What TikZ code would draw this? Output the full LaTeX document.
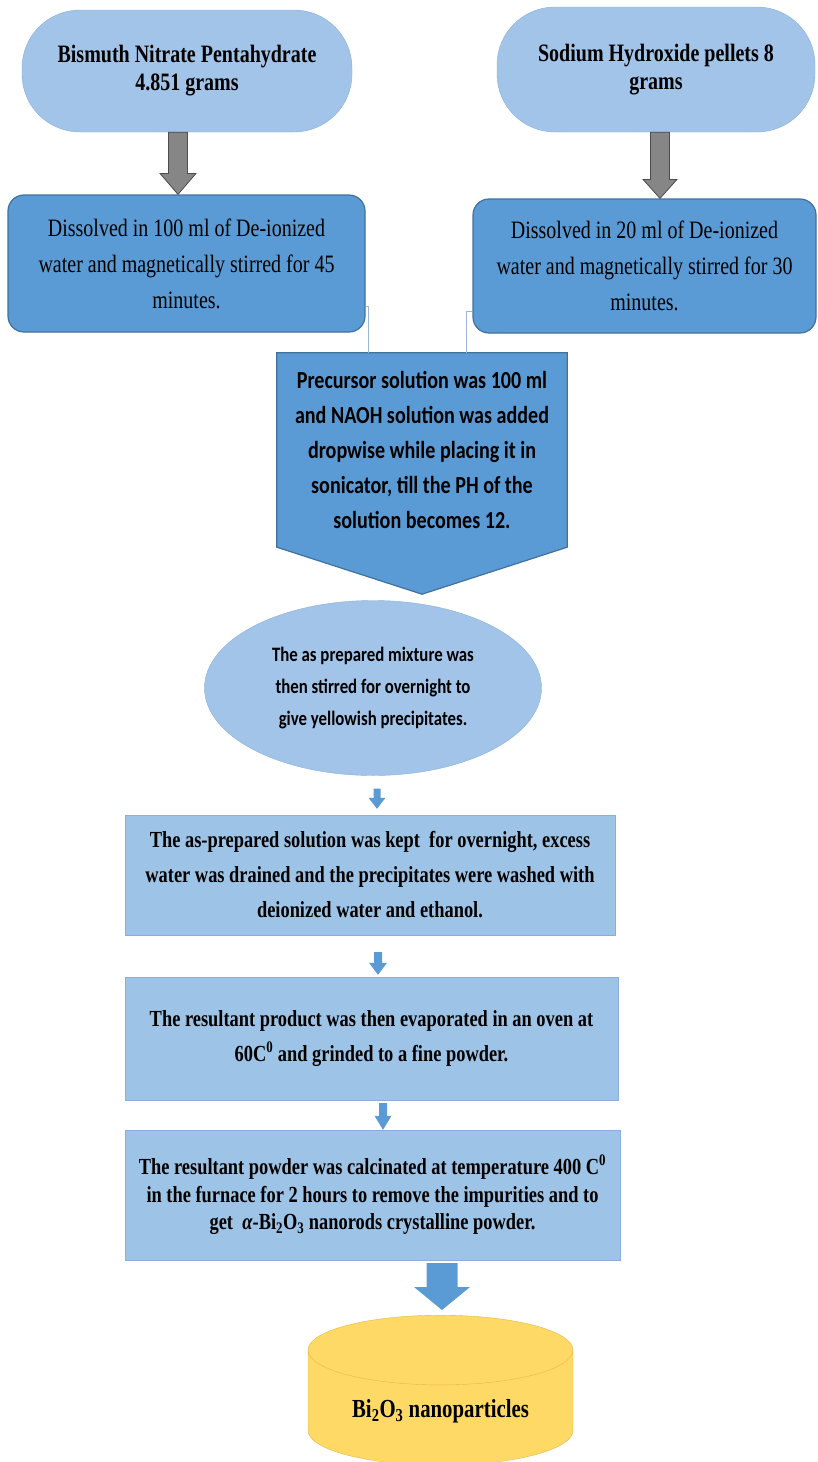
\documentclass[tikz,border=0pt]{standalone}
\usepackage{fontspec}
\setmainfont{Liberation Serif}[FakeStretch=0.8]
\newfontfamily\calibri{Carlito}[FakeStretch=0.82]
\usetikzlibrary{shapes.geometric,calc,backgrounds}
\definecolor{lightblue}{HTML}{A2C4E9}
\definecolor{midblue}{HTML}{5B9BD5}
\definecolor{darkblue}{HTML}{41719C}
\definecolor{edgeblue}{HTML}{8AAEDB}
\definecolor{rectblue}{HTML}{9DC3E6}
\definecolor{gold}{HTML}{FFD966}
\definecolor{goldedge}{HTML}{E2B94C}
\definecolor{linkgray}{HTML}{9DB5D6}
\newcommand{\blockarrow}[6][]{%
  \draw[#1] let \p1=(#2), \p2=(#3) in
    (\x1-#4,\y1) -- (\x1+#4,\y1) -- (\x1+#4,\y2+#6) -- (\x1+#5,\y2+#6)
    -- (\x1,\y2) -- (\x1-#5,\y2+#6) -- (\x1-#4,\y2+#6) -- cycle;}
\begin{document}
\begin{tikzpicture}[x=1pt,y=-1pt,
  startbox/.style={draw=edgeblue, fill=lightblue, rounded corners=58pt, minimum width=330pt, minimum height=122pt, align=center, font=\fontsize{25}{28}\selectfont\bfseries},
  dissolvebox/.style={draw=darkblue, line width=1.2pt, fill=midblue, rounded corners=16pt, minimum height=137pt, align=center, font=\fontsize{25}{36}\selectfont},
  stepbox/.style={draw=edgeblue, fill=rectblue, minimum width=493pt, align=center, font=\fontsize{23}{35}\selectfont\bfseries},
  link/.style={draw=linkgray, line width=0.8pt},
  grayarrow/.style={fill=gray!95, draw=black!70, line width=0.8pt},
  bluearrow/.style={fill=midblue, draw=none}]
\useasboundingbox (0,0) rectangle (817,1462);
\node[startbox] (bismuth) at (187,71) {Bismuth Nitrate Pentahydrate\\4.851 grams};
\node[startbox, minimum width=318pt, minimum height=125pt] (sodium) at (656,69.5) {Sodium Hydroxide pellets 8\\grams};
\node[dissolvebox, minimum width=357pt] (dissolveA) at (186.5,263.5) {Dissolved in 100 ml of De-ionized\\water and magnetically stirred for 45\\minutes.};
\node[dissolvebox, minimum width=343pt, minimum height=134pt] (dissolveB) at (644.5,266) {Dissolved in 20 ml of De-ionized\\water and magnetically stirred for 30\\minutes.};
\node[minimum width=290pt, minimum height=194pt, align=center, font=\calibri\fontsize{24.5}{35}\selectfont\bfseries] (precursor) at (422,450) {Precursor solution was 100 ml\\and NAOH solution was added\\dropwise while placing it in\\sonicator, till the PH of the\\solution becomes 12.};
\begin{scope}[on background layer]
\fill[midblue, draw=darkblue, line width=1.2pt] (precursor.north west) -- (precursor.north east) -- (precursor.south east) -- ([yshift=-47pt]precursor.south) -- (precursor.south west) -- cycle;
\end{scope}
\node[ellipse, draw=edgeblue, fill=lightblue, minimum width=337pt, minimum height=175pt, align=center, font=\calibri\fontsize{20.5}{32}\selectfont\bfseries] (mixture) at (373,688) {The as prepared mixture was\\then stirred for overnight to\\give yellowish precipitates.};
\node[stepbox, minimum width=490pt, minimum height=120pt] (washing) at (370,875) {The as-prepared solution was kept\ \ for overnight, excess\\water was drained and the precipitates were washed with\\deionized water and ethanol.};
\node[stepbox, minimum height=123pt] (drying) at (371.5,1038.5) {The resultant product was then evaporated in an oven at\\60C\textsuperscript{0} and grinded to a fine powder.};
\node[stepbox, minimum width=495pt, minimum height=130pt, font=\fontsize{23}{27.5}\selectfont\bfseries] (calcination) at (372.5,1195) {The resultant powder was calcinated at temperature 400 C\textsuperscript{0}\\in the furnace for 2 hours to remove the impurities and to\\get\ \ \textit{α}-Bi\textsubscript{2}O\textsubscript{3} nanorods crystalline powder.};
\node[cylinder, shape border rotate=90, aspect=0.38, draw=goldedge, fill=gold, minimum width=265pt, minimum height=150pt, anchor=north, font=\fontsize{26}{30}\selectfont\bfseries] (product) at (440.5,1315) {Bi\textsubscript{2}O\textsubscript{3} nanoparticles};
\draw[link] ([yshift=-42.5pt]dissolveA.east) -| ([xshift=92pt]precursor.north west);
\draw[link] ([yshift=-45pt]dissolveB.west) -| ([xshift=-101pt]precursor.north east);
\blockarrow[grayarrow]{[xshift=-9pt]bismuth.south}{dissolveA.north}{9.5pt}{18pt}{21pt}
\blockarrow[grayarrow]{[xshift=4pt]sodium.south}{dissolveB.north}{9.5pt}{17pt}{19pt}
\blockarrow[bluearrow]{[xshift=4pt,yshift=-13pt]mixture.south}{[yshift=6pt]washing.north}{3.5pt}{8.5pt}{11pt}
\blockarrow[bluearrow]{[xshift=8pt,yshift=-17pt]washing.south}{[yshift=2pt]drying.north}{4pt}{9pt}{12pt}
\blockarrow[bluearrow]{[xshift=11.5pt,yshift=-3pt]drying.south}{calcination.north}{4pt}{8.5pt}{14pt}
\blockarrow[bluearrow]{[xshift=69.5pt,yshift=-3pt]calcination.south}{[yshift=5pt]product.north}{15.5pt}{28pt}{23pt}
\end{tikzpicture}
\end{document}
